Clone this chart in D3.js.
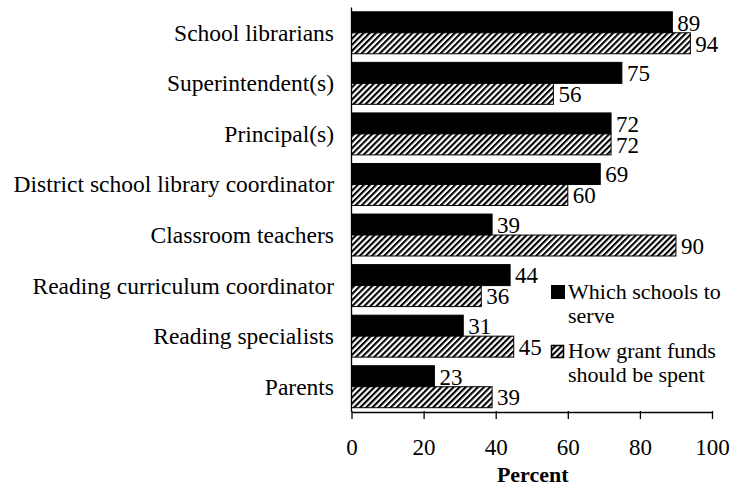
<!DOCTYPE html>
<html><head><meta charset="utf-8">
<script src="https://cdn.jsdelivr.net/npm/d3@7"></script>
<style>body{margin:0;background:#fff}svg{display:block}</style>
</head><body><svg id="c" width="730" height="487"></svg>
<script>
const categories = ["School librarians","Superintendent(s)","Principal(s)","District school library coordinator","Classroom teachers","Reading curriculum coordinator","Reading specialists","Parents"];
const whichSchools = [89,75,72,69,39,44,31,23];
const grantFunds = [94,56,72,60,90,36,45,39];
const seriesNames = ["Which schools to serve","How grant funds should be spent"];
const xTicks = [0,20,40,60,80,100];

(function(){
const FONT = "'Liberation Serif', 'Times New Roman', Tinos, 'DejaVu Serif', serif";
const svg = d3.select("#c");
const defs = svg.append("defs");
const pat = defs.append("pattern").attr("id","hatch").attr("patternUnits","userSpaceOnUse")
  .attr("width",4.3).attr("height",4.3).attr("patternTransform","rotate(45)");
pat.append("rect").attr("width",4.3).attr("height",4.3).attr("fill","#fff");
pat.append("rect").attr("width",2.1).attr("height",4.3).attr("fill","#000");

const mLeft = 351.5, mRight = 712, mTop = 7.5, mBottom = 412;
const x = d3.scaleLinear().domain([0,100]).range([mLeft,mRight]);
const y = d3.scaleBand().domain(categories).range([mTop,mBottom]).paddingInner(0.17).paddingOuter(0.085);
const sub = d3.scaleBand().domain([0,1]).range([0,y.bandwidth()]);

const data = categories.map((c,i)=>({c, v:[whichSchools[i],grantFunds[i]]}));
const g = svg.append("g");
data.forEach(d=>{
  d.v.forEach((v,k)=>{
    const yy = y(d.c)+sub(k);
    g.append("rect").attr("x",x(0)).attr("y",yy).attr("width",x(v)-x(0)).attr("height",sub.bandwidth())
      .attr("fill",k===0?"#000":"url(#hatch)").attr("stroke","#000").attr("stroke-width",1);
  });
});
data.forEach(d=>{
  d.v.forEach((v,k)=>{
    const yy = y(d.c)+sub(k)+sub.bandwidth()/2;
    g.append("text").attr("class","val").attr("x",x(v)+5).attr("y",yy).attr("dy","0.36em").text(v);
  });
});

svg.append("g").selectAll("text").data(categories).join("text").attr("class","cat")
  .attr("x",334).attr("y",d=>y(d)+y.bandwidth()/2).attr("dy","0.34em")
  .attr("text-anchor","end").text(d=>d);

svg.append("line").attr("x1",mLeft).attr("x2",mLeft).attr("y1",mTop).attr("y2",mBottom).attr("stroke","#000").attr("stroke-width",1.3);
const xa = svg.append("g").attr("transform",`translate(0,${mBottom})`)
  .call(d3.axisBottom(x).tickValues(xTicks).tickSize(7).tickSizeOuter(0).tickPadding(0).tickFormat(d3.format("d")));
xa.attr("font-family",null).attr("font-size",null);
xa.select(".domain").attr("stroke","#000").attr("stroke-width",1.3);
xa.selectAll(".tick line").attr("stroke","#000").attr("stroke-width",1.3).attr("y1",-1);
xa.selectAll(".tick text").attr("class","val").attr("y",43).attr("dy",null);
svg.append("text").attr("class","ttl").attr("x",(mLeft+mRight)/2+1).attr("y",482).attr("text-anchor","middle")
  .text("Percent");

const lg = svg.append("g");
lg.append("rect").attr("x",551.5).attr("y",285.5).attr("width",13).attr("height",13).attr("fill","#000").attr("stroke","#000");
lg.append("rect").attr("x",551.5).attr("y",345.5).attr("width",12).attr("height",12).attr("fill","url(#hatch)").attr("stroke","#000").attr("stroke-width",1.5);
const t1 = lg.append("text").attr("class","leg").attr("x",568).attr("y",299);
t1.append("tspan").attr("x",568).text("Which schools to");
t1.append("tspan").attr("x",568).attr("dy",24).text("serve");
const t2 = lg.append("text").attr("class","leg").attr("x",568).attr("y",358);
t2.append("tspan").attr("x",568).text("How grant funds");
t2.append("tspan").attr("x",568).attr("dy",24).text("should be spent");

svg.selectAll("text").style("font-family",FONT).style("fill","#000");
svg.selectAll("text.val").style("font-size","23px");
svg.selectAll("text.cat").style("font-size","23.5px");
svg.selectAll("text.leg").style("font-size","22px");
svg.select("text.ttl").style("font-size","22px").style("font-weight","bold");
})();
</script></body></html>
